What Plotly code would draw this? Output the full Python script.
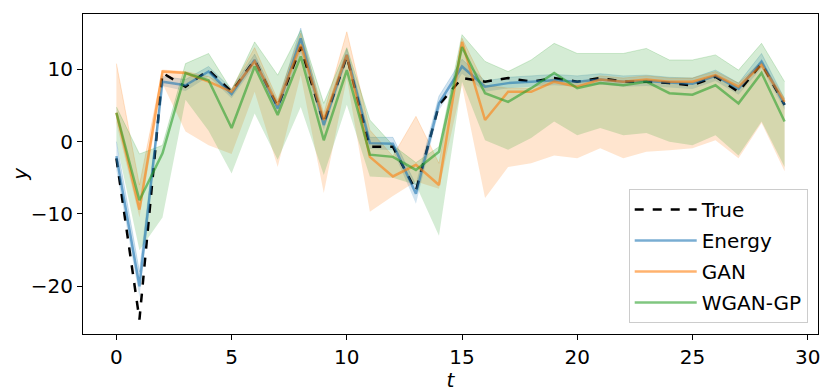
import plotly.graph_objects as go

# time steps
t = list(range(30))

# ground truth
y_true = [-2.3, -24.6, 9.5, 7.6, 9.9, 6.9, 11.3, 4.8, 13.1, 2.5,
          11.8, -0.7, -0.7, -6.8, 5.1, 8.8, 8.3, 8.8, 8.3, 8.8,
          8.3, 8.8, 8.3, 8.3, 8.1, 7.8, 9.0, 6.9, 10.8, 5.1]

# energy model: mean + band
energy = [-2.0, -20.0, 8.3, 7.8, 9.7, 6.6, 11.3, 4.6, 14.3, 2.3,
          12.0, -0.2, -0.3, -7.2, 5.3, 10.4, 7.6, 8.1, 8.3, 8.5,
          8.3, 8.6, 8.3, 8.4, 8.2, 8.0, 9.1, 7.3, 11.1, 5.1]
energy_lo = [-4.0, -21.5, 7.7, 7.0, 9.0, 6.0, 10.5, 3.9, 12.3, 1.6,
             11.2, -1.0, -1.2, -8.6, 4.3, 9.4, 6.9, 7.4, 7.6, 7.8,
             7.6, 7.9, 7.6, 7.7, 7.5, 7.3, 8.4, 6.5, 10.2, 4.4]
energy_hi = [0.0, -18.0, 9.0, 8.6, 10.4, 7.3, 12.1, 5.4, 15.7, 3.1,
             12.8, 0.6, 0.6, -6.0, 6.3, 11.4, 8.4, 8.9, 9.1, 9.3,
             9.1, 9.4, 9.1, 9.2, 8.9, 8.8, 9.9, 8.1, 12.2, 5.9]

# GAN: mean + band
gan = [4.0, -9.4, 9.7, 9.5, 8.3, 6.9, 11.1, 5.1, 13.4, 3.0,
       12.0, -2.1, -4.8, -3.2, -6.0, 13.8, 3.0, 6.9, 6.9, 8.3,
       7.6, 8.6, 8.3, 8.6, 8.3, 8.3, 9.2, 7.6, 10.6, 5.5]
gan_lo = [2.5, -10.5, 8.0, 1.4, -0.5, -1.7, 6.9, -3.5, 9.2, -7.1,
          8.8, -9.7, -7.5, -5.5, -6.5, 7.8, -7.8, -3.5, -3.0, -1.9,
          -2.3, -0.9, -2.3, -1.4, -1.2, -0.9, 0.2, -2.3, 2.6, -4.1]
gan_hi = [10.8, -6.0, 9.9, 9.7, 9.0, 7.3, 13.0, 5.8, 15.0, 3.9,
          15.2, 1.6, -2.0, 3.5, -3.0, 14.3, 7.8, 7.4, 7.4, 8.8,
          8.1, 9.1, 8.8, 9.1, 8.8, 8.8, 9.7, 8.1, 11.1, 6.0]

# WGAN-GP: mean + band
wgan = [4.0, -8.1, -1.6, 9.5, 8.5, 1.9, 10.4, 3.7, 11.8, 0.2,
        9.9, -1.8, -2.1, -3.9, -1.4, 13.1, 6.7, 5.5, 7.4, 9.5,
        7.4, 8.1, 7.8, 8.3, 6.7, 6.5, 7.8, 5.3, 9.5, 2.8]
wgan_lo = [0.0, -15.0, -10.5, 5.8, 1.5, -4.4, 3.9, -2.5, 4.8, -4.6,
           5.1, -4.8, -5.0, -6.0, -13.0, 8.3, 0.2, -1.1, 0.5, 2.8,
           0.9, 1.9, 0.9, 1.2, 0.0, -0.5, 0.9, -1.9, 2.8, -3.5]
wgan_hi = [4.8, -1.7, -0.5, 10.8, 12.2, 7.1, 13.8, 9.2, 15.4, 5.3,
           13.0, 3.0, -0.5, -2.9, -0.7, 14.8, 11.1, 9.7, 11.3, 13.6,
           12.2, 12.2, 12.2, 12.9, 11.3, 11.3, 12.0, 9.9, 13.6, 8.3]

series = [
    ("Energy", energy, energy_lo, energy_hi, (31, 119, 180)),
    ("GAN", gan, gan_lo, gan_hi, (255, 127, 14)),
    ("WGAN-GP", wgan, wgan_lo, wgan_hi, (44, 160, 44)),
]

fig = go.Figure()

# bands first
for name, mean, lo, hi, (r, g, b) in series:
    fig.add_trace(go.Scatter(x=t, y=lo, mode="lines", line=dict(width=0),
                             showlegend=False, hoverinfo="skip"))
    fig.add_trace(go.Scatter(x=t, y=hi, mode="lines", fill="tonexty",
                             fillcolor=f"rgba({r},{g},{b},0.2)",
                             line=dict(width=1, color=f"rgba({r},{g},{b},0.2)"),
                             showlegend=False, hoverinfo="skip"))

fig.add_trace(go.Scatter(x=t, y=y_true, mode="lines", name="True", legendgroup="True",
                         line=dict(color="black", width=2.5, dash="dash")))

for name, mean, lo, hi, (r, g, b) in series:
    fig.add_trace(go.Scatter(x=t, y=mean, mode="lines", name=name, legendgroup=name,
                             line=dict(color=f"rgba({r},{g},{b},0.6)", width=2.5)))

axis_style = dict(showgrid=False, zeroline=False, showline=True, linecolor="black",
                  linewidth=1, mirror=True, ticks="outside", ticklen=5,
                  tickcolor="black", automargin=False,
                  tickfont=dict(size=20, color="black"))

# page body has an 8px margin, so the figure is shrunk to fit the window
fig.update_layout(
    width=822, height=384,
    margin=dict(l=75, r=12, t=6, b=58),
    plot_bgcolor="white", paper_bgcolor="white",
    font=dict(family="DejaVu Sans", color="black"),
    xaxis=dict(range=[-1.45, 30.45], tickvals=[0, 5, 10, 15, 20, 25, 30],
               title=dict(text="<i>t</i>", font=dict(size=20), standoff=2), **axis_style),
    yaxis=dict(range=[-26.6, 17.66], tickvals=[-20, -10, 0, 10],
               ticktext=["\u221220", "\u221210", "0", "10"], **axis_style),
    legend=dict(x=0.986, y=0.034, xanchor="right", yanchor="bottom",
                traceorder="grouped",
                bgcolor="rgba(255,255,255,0.8)", bordercolor="#cccccc", borderwidth=1,
                font=dict(size=20), tracegroupgap=2, itemwidth=62),
    showlegend=True,
)

fig.add_annotation(text="<i>y</i>", xref="paper", yref="paper", x=-0.086, y=0.5,
                   xanchor="center", yanchor="middle", textangle=-90, showarrow=False,
                   font=dict(size=20))

fig.write_html("out.html")
